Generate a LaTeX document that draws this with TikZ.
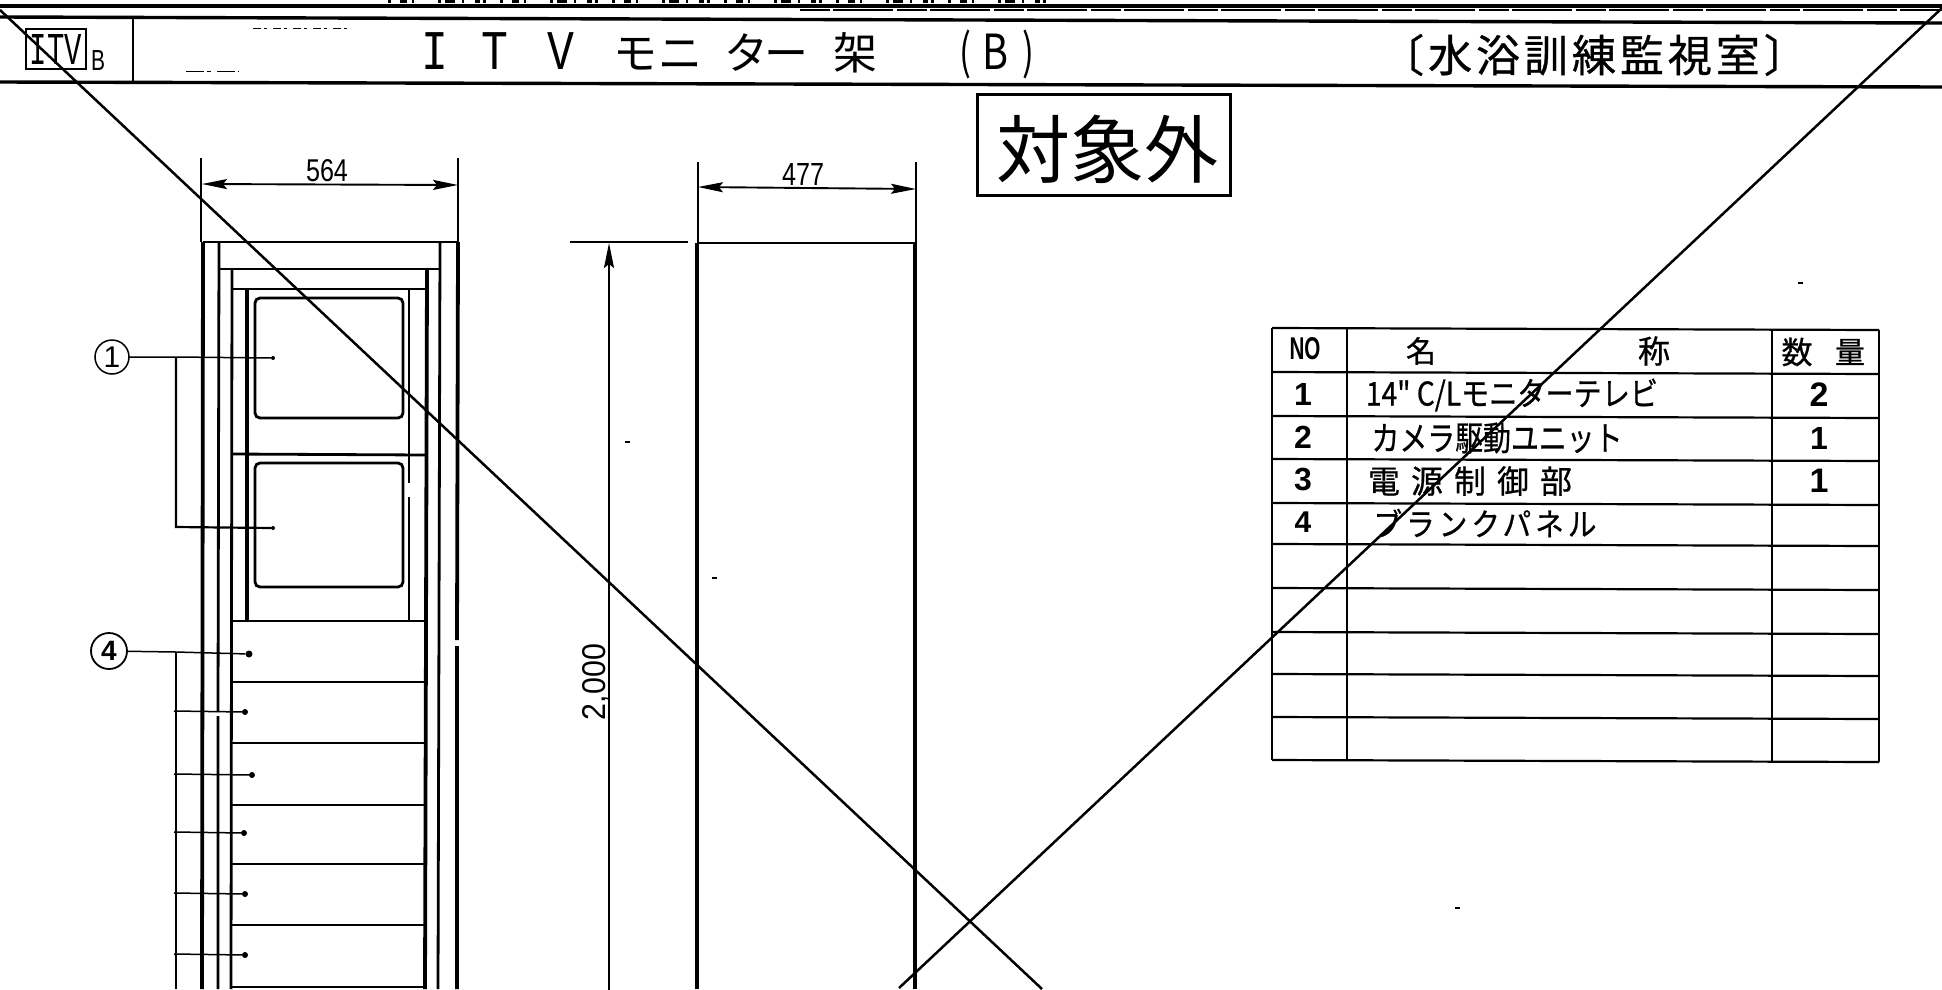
\documentclass[tikz,border=0pt]{standalone}
\usepackage{fontspec}
\setmainfont{Liberation Sans}
\newfontfamily\jp{Noto Sans CJK JP}
\newfontfamily\jph[FakeBold=0.7]{Noto Sans CJK JP}
\newfontfamily\mono{Liberation Mono}
\usetikzlibrary{arrows.meta}
\newcommand{\fitbox}[3]{\resizebox{#1pt}{#2pt}{#3}}
\newcommand{\gl}[2]{\makebox[0pt]{#2}\hspace{#1pt}}
\newcommand{\fs}[1]{\fontsize{#1pt}{#1pt}\selectfont}
\tikzset{
  band/.style={line width=3.4pt},
  part/.style={line width=2.8pt},
  thick part/.style={line width=3.8pt},
  cross/.style={line width=2.5pt},
  leader/.style={line width=1.5pt},
  bus/.style={line width=2.2pt},
  dimline/.style={line width=1.9pt,{Stealth[length=25pt,width=10pt,inset=4pt]}-{Stealth[length=25pt,width=10pt,inset=4pt]}},
  extline/.style={line width=1.3pt},
  screen/.style={line width=2.8pt,rounded corners=5pt},
  tline/.style={line width=2.2pt},
  plain/.style={inner sep=0pt,outer sep=0pt},
  callout/.style={circle,draw,line width=1.5pt,minimum size=34pt,inner sep=0pt,outer sep=0pt},
  tip/.style={circle,fill,inner sep=0pt,minimum size=#1},
  tip/.default=6pt,
  speck/.style={fill,inner sep=0pt,minimum width=5pt,minimum height=1.6pt},
}
\begin{document}
\begin{tikzpicture}[x=1pt,y=-1pt]
\useasboundingbox (0,0) rectangle (1942,989);
\clip (0,0) rectangle (1942,989);
\fill[white] (0,0) rectangle (1942,989);

% title band
\draw[line width=4pt,dash pattern=on 3pt off 9pt on 7pt off 5pt on 2pt off 24pt on 3pt off 4pt on 10pt off 7pt on 2pt off 11pt on 5pt off 3pt on 3pt off 14pt] (388,1) -- (1055,1);
\draw[band] (0,6) -- (1942,6);
\draw[line width=1.2pt,dash pattern=on 30pt off 3pt on 60pt off 4pt] (800,10) -- (1942,10);
\draw[band] (0,17) -- (1942,23);
\draw[band] (0,82) -- (1942,87);
\draw[line width=1.7pt] (133,18) -- (133,82);
\node[draw,line width=2pt,minimum width=60pt,minimum height=40pt,inner sep=0pt] (itv) at (56,49) {\fitbox{52}{30}{\mono ITV}};
\node[plain] (itvb) at (98,60) {\fitbox{14}{20}{B}};
\node[plain,anchor=base west] (title) at (435,69) {\mono\fs{56}%
  \gl{60}{\scalebox{0.8}[1]{I}}\gl{66}{\scalebox{0.8}[1]{T}}\gl{74}{\scalebox{0.8}[1]{V}}%
  {\jp\fs{44}\gl{46}{モ}\gl{66}{ニ}\gl{39}{タ}\gl{70}{ー}\gl{109}{架}}%
  {\jp\fs{44}\gl{31}{\scalebox{0.8}[1.1]{(}}\gl{32}{\scalebox{0.9}[1.1]{B}}\gl{0}{\scalebox{0.8}[1.1]{)}}}};
\node[plain] (room) at (1594,55) {\jph\fs{44}\addfontfeature{LetterSpace=9}〔水浴訓練監視室〕};
\draw[line width=1pt,dash pattern=on 8pt off 3pt on 3pt off 6pt] (253,28) -- (350,28);
\draw[line width=1pt,dash pattern=on 18pt off 3pt on 4pt off 6pt] (186,71) -- (239,71);

% stamp
\node[draw,line width=2.2pt,minimum width=253pt,minimum height=101pt,inner sep=0pt] (stamp) at (1104,145) {};
\node[plain] (stamptext) at (1107,149) {\jp\fs{74}対象外};

% front view frame
\draw[part] (203,242) -- (458,242);
\draw[thick part] (203,242) -- (202,989);
\draw[part] (219,242) -- (218,712) (218,716) -- (218,989);
\draw[part] (232,269) -- (231,989);
\draw[part] (219,269) -- (440,269);
\draw[part] (232,289) -- (427,289);
\draw[thick part] (247,289) -- (247,620);
\draw[part] (409,289) -- (409,483) (409,497) -- (409,622);
\draw[thick part] (427,269) -- (425,989);
\draw[part] (440,242) -- (438,989);
\draw[thick part] (458,242) -- (457,640) (457,646) -- (457,989);
\draw[screen] (255,298) rectangle (403,418);
\draw[screen] (255,463) rectangle (403,587);
\draw[part] (232,454) -- (427,455);
\foreach \yy in {621,682,743,805,864,925,987} \draw[part] (231,\yy) -- (425,\yy);

% callouts
\node[callout] (c1) at (112,357) {\fs{30}1};
\node[callout,line width=1.8pt,minimum size=36pt] (c4) at (109,651) {\fs{28}\bfseries 4};
\coordinate (j1) at (176,357);
\coordinate (e1) at (176,527);
\coordinate (bot) at (176,989);
\coordinate (j4) at (176,652);
\node[tip=4pt] (d1) at (273,358) {};
\node[tip=4pt] (d2) at (273,528) {};
\node[tip=7pt] (d3) at (249,654) {};
\node[tip] (d4) at (245,712) {};
\node[tip] (d5) at (252,775) {};
\node[tip] (d6) at (244,833) {};
\node[tip] (d7) at (245,894) {};
\node[tip] (d8) at (245,955) {};
\draw[leader] (c1) -- (j1) -- (d1);
\draw[bus] (j1) -- (e1) -- (d2);
\draw[leader] (c4) -- (j4) -- (d3);
\draw[bus] (j4) -- (bot);
\foreach \dd/\yy in {d4/711,d5/774,d6/832,d7/893,d8/954}{
  \coordinate (s) at (174,\yy);
  \draw[leader] (s) -- (\dd);
}

% width dimensions
\coordinate (a1) at (201,158); \coordinate (a2) at (201,242);
\coordinate (a3) at (458,158); \coordinate (a4) at (458,242);
\coordinate (a5) at (202,184); \coordinate (a6) at (458,185);
\draw[extline] (a1) -- (a2); \draw[extline] (a3) -- (a4);
\draw[dimline] (a5) -- (a6);
\node[plain] (w1) at (327,171) {\fitbox{42}{22}{564}};
\coordinate (b1) at (698,162); \coordinate (b2) at (698,243);
\coordinate (b3) at (916,162); \coordinate (b4) at (916,243);
\coordinate (b5) at (698,187); \coordinate (b6) at (916,189);
\draw[extline] (b1) -- (b2); \draw[extline] (b3) -- (b4);
\draw[dimline] (b5) -- (b6);
\node[plain] (w2) at (803,174) {\fitbox{42}{22}{477}};

% side view
\draw[part] (697,243) -- (915,243);
\draw[thick part] (697,243) -- (697,989);
\draw[thick part] (915,243) -- (915,989);

% height dimension
\coordinate (h1) at (570,242); \coordinate (h2) at (688,242);
\coordinate (h3) at (609,243); \coordinate (h4) at (609,1060);
\draw[extline] (h1) -- (h2);
\draw[line width=2.2pt,{Stealth[length=25pt,width=10pt,inset=4pt]}-] (h3) -- (h4);
\node[plain,rotate=90] (hh) at (596,682) {\fitbox{76}{23}{2,000}};

% table
\foreach \yy in {328,372,416,459,503,544,588,632,674,717,760} \draw[tline] (1272,\yy) -- (1879,\yy+2);
\draw[part] (1272,328) -- (1272,760);
\draw[part] (1347,328) -- (1347,761);
\draw[part] (1772,329) -- (1772,762);
\draw[part] (1879,330) -- (1879,762);
\node[plain] (no) at (1305,349) {\fitbox{31}{22}{\bfseries NO}};
\node[plain] (name1) at (1421,351) {\jph\fs{30}名};
\node[plain] (name2) at (1654,351) {\jph\fs{32}称};
\node[plain] (qty1) at (1797,352) {\jph\fs{31}数};
\node[plain] (qty2) at (1850,352) {\jph\fs{30}量};
\node[plain] (n1) at (1303,394) {\fs{32}\bfseries 1};
\node[plain] (n2) at (1303,437) {\fs{32}\bfseries 2};
\node[plain] (n3) at (1303,479) {\fs{32}\bfseries 3};
\node[plain] (n4) at (1303,522) {\fs{30}\bfseries 4};
\node[plain] (t1) at (1512,395) {\fitbox{292}{27}{\jph 14" C/Lモニターテレビ}};
\node[plain] (t2) at (1497,438) {\fitbox{251}{28}{\jph カメラ駆動ユニット}};
\node[plain] (t3) at (1470,481) {\fitbox{204}{27}{\jph\addfontfeature{LetterSpace=35}電源制御部}};
\node[plain] (t4) at (1485,523) {\fitbox{223}{27}{\jph\addfontfeature{LetterSpace=14}ブランクパネル}};
\node[plain] (v1) at (1819,395) {\fs{34}\bfseries 2};
\node[plain] (v2) at (1819,438) {\fs{32}\bfseries 1};
\node[plain] (v3) at (1819,481) {\fs{34}\bfseries 1};

% stray specks
\node[speck] (sp1) at (627,442) {};
\node[speck] (sp2) at (714,578) {};
\node[speck] (sp3) at (1800,283) {};
\node[speck] (sp4) at (1457,908) {};

% cancel cross
\coordinate (x1) at (0,10); \coordinate (x2) at (1042,989);
\coordinate (x3) at (1942,8); \coordinate (x4) at (899,988);
\draw[cross] (x1) -- (x2);
\draw[cross] (x3) -- (x4);
\end{tikzpicture}
\end{document}
